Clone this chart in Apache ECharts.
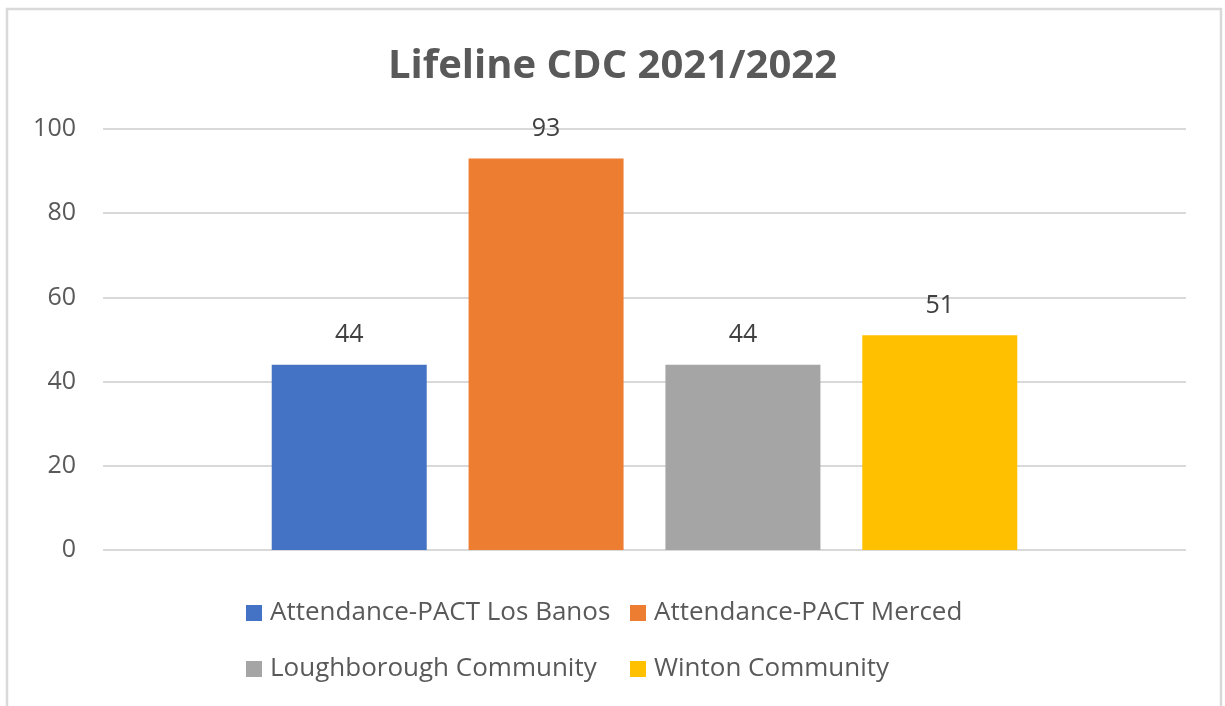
<!DOCTYPE html>
<html>
<head>
<meta charset="utf-8">
<script src="https://cdn.jsdelivr.net/npm/echarts@6/dist/echarts.min.js"></script>
<style>
html,body{margin:0;padding:0;background:#fff;}
#chart{width:1225px;height:706px;}
</style>
</head>
<body>
<div id="chart"></div>
<script>
const titleText = 'Lifeline CDC 2021/2022';
const categories = [''];
const seriesNames = ['Attendance-PACT Los Banos', 'Attendance-PACT Merced', 'Loughborough Community', 'Winton Community'];
const seriesValues = [44, 93, 44, 51];
const seriesColors = ['#4472C4', '#ED7D31', '#A5A5A5', '#FFC000'];
const yTicks = { min: 0, max: 100, interval: 20 };

const FONT = '"Open Sans", "Liberation Sans", sans-serif';
const chart = echarts.init(document.getElementById('chart'));

const legendPos = [
  { left: 246, top: 600 },
  { left: 630, top: 600 },
  { left: 246, top: 656 },
  { left: 630, top: 656 }
];

const option = {
  backgroundColor: '#ffffff',
  animation: false,
  title: {
    text: titleText,
    left: 'center',
    top: 42,
    textStyle: { fontFamily: FONT, fontSize: 40, fontWeight: 'bold', color: '#595959' }
  },
  graphic: [{
    type: 'rect',
    shape: { x: 7, y: 9, width: 1214, height: 760 },
    style: { fill: 'none', stroke: '#D9D9D9', lineWidth: 2.5 },
    silent: true
  }],
  legend: seriesNames.map((n, i) => ({
    data: [n],
    left: legendPos[i].left,
    top: legendPos[i].top,
    padding: 0,
    itemWidth: 16,
    itemHeight: 16,
    itemGap: 8,
    icon: 'rect',
    textStyle: { fontFamily: FONT, fontSize: 26, color: '#595959', padding: [0, 0, 0, 3] }
  })),
  grid: { left: 103, right: 39, top: 129, bottom: 156, containLabel: false },
  xAxis: {
    type: 'category',
    data: categories,
    axisLine: { show: false },
    axisTick: { show: false },
    axisLabel: { show: false }
  },
  yAxis: {
    type: 'value',
    min: yTicks.min,
    max: yTicks.max,
    interval: yTicks.interval,
    axisLine: { show: false },
    axisTick: { show: false },
    axisLabel: { fontFamily: FONT, fontSize: 25, color: '#595959', margin: 27 },
    splitLine: { lineStyle: { color: '#D9D9D9', width: 2 } }
  },
  series: seriesNames.map((n, i) => ({
    name: n,
    type: 'bar',
    data: [seriesValues[i]],
    barWidth: 155,
    barGap: '27%',
    itemStyle: { color: seriesColors[i] },
    label: {
      show: true,
      position: 'top',
      distance: 17,
      fontFamily: FONT,
      fontSize: 25,
      color: '#404040'
    }
  }))
};
chart.setOption(option);
</script>
</body>
</html>
